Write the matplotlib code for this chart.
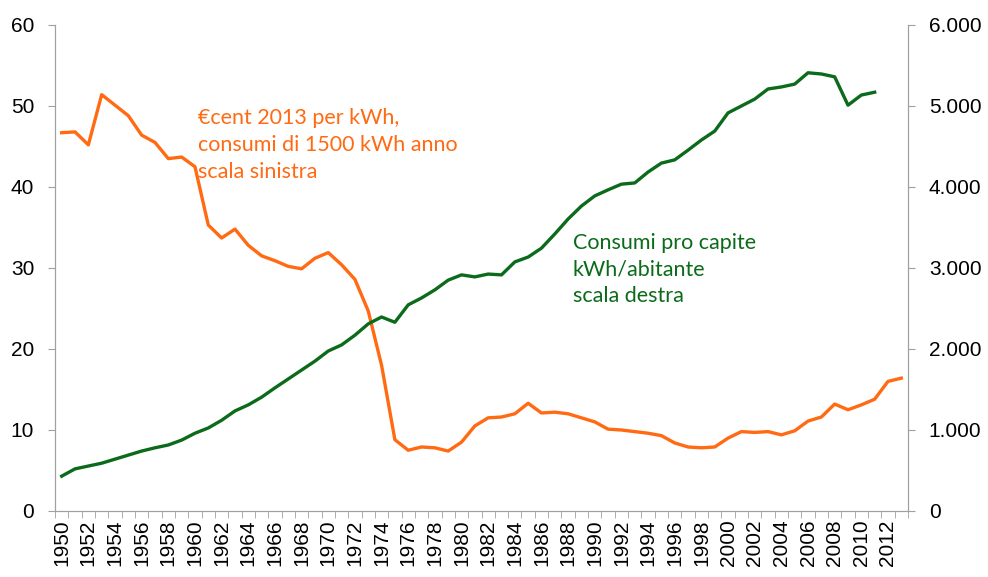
import matplotlib
matplotlib.use("Agg")
import matplotlib.pyplot as plt
from matplotlib.ticker import FuncFormatter

plt.rcParams["font.family"] = ["Liberation Sans", "DejaVu Sans"]

anni = list(range(1950, 2014))

# €cent 2013 per kWh (scala sinistra)
prezzo = [46.7, 46.8, 45.2, 51.4, 50.1, 48.8, 46.4, 45.5, 43.5, 43.7,
          42.5, 35.3, 33.7, 34.8, 32.8, 31.5, 30.9, 30.2, 29.9, 31.2,
          31.9, 30.4, 28.6, 24.7, 18.0, 8.8, 7.5, 7.9, 7.8, 7.4,
          8.5, 10.5, 11.5, 11.6, 12.0, 13.3, 12.1, 12.2, 12.0, 11.5,
          11.0, 10.1, 10.0, 9.8, 9.6, 9.3, 8.4, 7.9, 7.8, 7.9,
          9.0, 9.8, 9.7, 9.8, 9.4, 9.9, 11.1, 11.6, 13.2, 12.5,
          13.1, 13.8, 16.0, 16.4]

# consumi pro capite kWh/abitante (scala destra), 1950-2011
consumi = [430, 520, 555, 590, 640, 690, 740, 780, 815, 875,
           960, 1025, 1120, 1235, 1310, 1405, 1520, 1630, 1740, 1850,
           1975, 2050, 2170, 2310, 2395, 2330, 2545, 2630, 2730, 2850,
           2915, 2890, 2925, 2915, 3075, 3135, 3245, 3420, 3605, 3765,
           3890, 3965, 4035, 4050, 4185, 4295, 4335, 4455, 4580, 4690,
           4915, 5000, 5085, 5210, 5235, 5270, 5410, 5395, 5360, 5010,
           5135, 5170]

arancio = "#FF6A13"
verde = "#0B6B1B"
grigio = "#A0A0A0"

fig = plt.figure(figsize=(9.88, 5.77), dpi=100)
ax = fig.add_axes([0.0557, 0.1144, 0.8633, 0.8423])
ax2 = ax.twinx()

x = list(range(len(anni)))
ax.plot(x, prezzo, color=arancio, lw=2.4)
ax2.plot(x[:len(consumi)], consumi, color=verde, lw=2.4)

ax.set_xlim(-0.5, len(anni) - 0.5)
ax.set_ylim(0, 60)
ax2.set_ylim(0, 6000)
ax.set_yticks(range(0, 61, 10))
ax2.set_yticks(range(0, 6001, 1000))
ax2.yaxis.set_major_formatter(FuncFormatter(lambda v, p: f"{int(v):,}".replace(",", ".")))

ax.set_xticks(x[::2])
ax.set_xticklabels([str(a) for a in anni[::2]], rotation=90, fontsize=15)
ax.set_xticks([i - 0.5 for i in range(len(anni) + 1)], minor=True)
ax.tick_params(axis="x", which="major", length=0, pad=6)
ax.tick_params(axis="x", which="minor", length=5, color=grigio, direction="out")

for a in (ax, ax2):
    for s in a.spines.values():
        s.set_color(grigio)
    a.spines["top"].set_visible(False)
    a.tick_params(axis="y", length=5, color=grigio, labelsize=15, pad=10)

fam = ["Lato", "DejaVu Sans"]
ax.text(0.1676, 0.829, "€cent 2013 per kWh,\nconsumi di 1500 kWh anno\nscala sinistra",
        transform=ax.transAxes, color=arancio, fontsize=15.5, family=fam,
        va="top", ha="left", linespacing=1.42)
ax.text(0.607, 0.572, "Consumi pro capite\nkWh/abitante\nscala destra",
        transform=ax.transAxes, color=verde, fontsize=15.5, family=fam,
        va="top", ha="left", linespacing=1.42)

fig.savefig("out.png", dpi=100)
